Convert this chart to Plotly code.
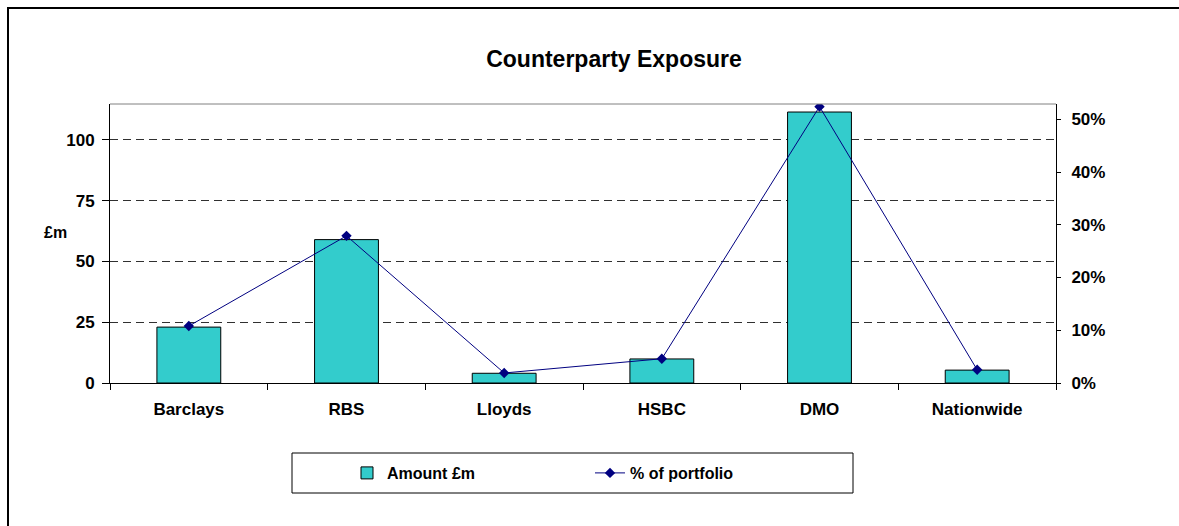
import plotly.graph_objects as go

categories = ["Barclays", "RBS", "Lloyds", "HSBC", "DMO", "Nationwide"]
amount_m = [23.0, 59.0, 4.0, 9.9, 111.5, 5.3]
pct_portfolio = [0.108, 0.279, 0.019, 0.046, 0.524, 0.025]
left_ticks = [0, 25, 50, 75, 100]
right_ticks = [0, 0.1, 0.2, 0.3, 0.4, 0.5]

W, H = 1179, 526
L, R, T, B = 110, 123, 104, 143
pw = W - L - R
ph = H - T - B

def px(x):
    return (x - L) / pw

def py(y):
    return (H - B - y) / ph

FONT = "Arial, Liberation Sans, sans-serif"

fig = go.Figure()
fig.add_trace(go.Bar(
    x=categories, y=amount_m, name="Amount £m",
    marker=dict(color="#33CCCC", line=dict(color="#000000", width=1)),
    width=0.405, yaxis="y",
))
fig.add_trace(go.Scatter(
    x=categories, y=pct_portfolio, name="% of portfolio",
    mode="lines+markers",
    line=dict(color="#000080", width=1),
    marker=dict(symbol="diamond", size=8, color="#000080"),
    yaxis="y2",
))

tick_font = dict(size=17, family=FONT, color="#000000", weight="bold")

fig.update_layout(
    width=W, height=H,
    margin=dict(l=L, r=R, t=T, b=B),
    paper_bgcolor="white", plot_bgcolor="white",
    font=dict(family=FONT, color="#000000"),
    title=dict(text="Counterparty Exposure", x=px(614), xref="paper",
               xanchor="center", y=1 - 59 / H, yref="container", yanchor="middle",
               font=dict(size=23, family=FONT, color="#000000", weight="bold")),
    xaxis=dict(
        type="category", showline=True, linecolor="#000000", linewidth=1,
        ticks="outside", ticklen=6, tickcolor="#000000", tickson="boundaries",
        showgrid=False, tickfont=tick_font, ticklabelstandoff=11,
    ),
    yaxis=dict(
        range=[0, 114.8], tickvals=left_ticks, showline=True, linecolor="#000000",
        linewidth=1, ticks="outside", ticklen=7, tickcolor="#000000",
        showgrid=True, gridcolor="#303030", griddash="8px,5px", gridwidth=1,
        zeroline=False, tickfont=tick_font, ticklabelstandoff=4,
    ),
    yaxis2=dict(
        range=[0, 0.529], tickvals=right_ticks, tickformat=".0%", overlaying="y",
        side="right", showline=True, linecolor="#000000", linewidth=1,
        ticks="outside", ticklen=4, tickcolor="#000000", showgrid=False,
        zeroline=False, tickfont=tick_font, ticklabelstandoff=7,
    ),
    showlegend=True,
    legend=dict(
        orientation="h", x=px(347), xanchor="left", y=py(473), yanchor="middle",
        xref="paper", yref="paper", bgcolor="rgba(0,0,0,0)", borderwidth=0,
        entrywidth=198, entrywidthmode="pixels",
        font=dict(size=16, family=FONT, color="#000000", weight="bold"),
    ),
    shapes=[
        # outer chart border: top and left edges (rest lies beyond the viewport)
        dict(type="line", xref="paper", yref="paper",
             x0=px(7), x1=px(1179), y0=py(8), y1=py(8),
             line=dict(color="#000000", width=2)),
        dict(type="line", xref="paper", yref="paper",
             x0=px(8), x1=px(8), y0=py(7), y1=py(526),
             line=dict(color="#000000", width=2)),
        # plot-area top border
        dict(type="line", xref="paper", yref="paper", x0=0, x1=1, y0=1, y1=1,
             line=dict(color="#808080", width=1)),
        # legend box
        dict(type="rect", xref="paper", yref="paper",
             x0=px(292), x1=px(853), y0=py(493), y1=py(453),
             line=dict(color="#000000", width=1)),
    ],
    annotations=[
        dict(text="£m", x=px(42), y=py(232), xref="paper", yref="paper",
             showarrow=False,
             font=dict(size=16, family=FONT, color="#000000", weight="bold")),
    ],
)

fig.write_html(
    "out.html",
    post_script="document.documentElement.style.overflow='hidden';"
                "document.body.style.overflow='hidden';document.body.style.margin='0';",
)
